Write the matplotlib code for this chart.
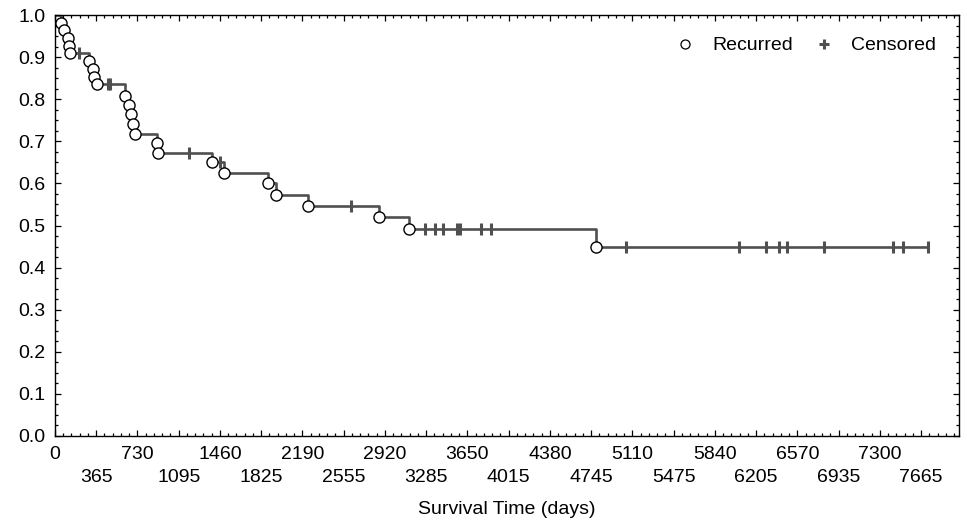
# Kaplan-Meier style recurrence curve

import numpy as np
import matplotlib
matplotlib.use('Agg')
import matplotlib.pyplot as plt
from matplotlib.lines import Line2D
from matplotlib.ticker import MultipleLocator

plt.rcParams['font.family'] = ['Liberation Sans', 'DejaVu Sans']

# recurrence times (days) and survival after each drop
event_times = [50, 82, 118, 121, 133, 301, 339, 348, 374, 622, 658, 670, 693, 711,
               905, 912, 1389, 1498, 1882, 1958, 2242, 2867, 3130, 4788]
event_surv = [0.982, 0.964, 0.945, 0.927, 0.909, 0.890, 0.872, 0.853, 0.835, 0.808,
              0.786, 0.764, 0.741, 0.718, 0.695, 0.673, 0.650, 0.624, 0.600, 0.573,
              0.547, 0.520, 0.492, 0.448]
# censored times (days)
censor_times = [215, 466, 487, 1183, 1460, 2619, 3277, 3363, 3436, 3560, 3584, 3770,
                3856, 5050, 6056, 6292, 6407, 6475, 6805, 7419, 7502, 7728]

xticks = list(range(0, 7666, 365))
yticks = [i / 10 for i in range(11)]

line_col = '#505050'

fig = plt.figure(figsize=(9.67, 5.23), dpi=100)
ax = fig.add_axes([55/967, 1-436/523, (959-55)/967, (436-15)/523])

levels = [1.0] + event_surv
xs = [0] + event_times + [max(censor_times)]
ys = levels + [levels[-1]]
ax.step(xs, ys, where='post', color=line_col, lw=1.9, zorder=2)

idx = np.searchsorted(event_times, censor_times, side='right')
cens_y = [levels[i] for i in idx]
ax.plot(censor_times, cens_y, ls='none', marker='|', ms=8, mew=2.2,
        color=line_col, zorder=3)

ax.plot(event_times, event_surv, ls='none', marker='o', ms=8, mfc='white',
        mec='black', mew=1.0, zorder=4)

ax.set_xlim(0, 8000)
ax.set_ylim(0, 1.0)
ax.set_xticks(xticks)
ax.set_xticklabels([str(v) if i % 2 == 0 else '\n' + str(v) for i, v in enumerate(xticks)])
for t in ax.get_xticklabels():
    t.set_linespacing(1.45)
ax.xaxis.set_minor_locator(MultipleLocator(73))
ax.set_yticks(yticks)
ax.set_yticklabels(['%.1f' % v for v in yticks])
ax.yaxis.set_minor_locator(MultipleLocator(0.025))

ax.tick_params(which='both', direction='in', top=True, right=True, labelsize=14,
               color='black', width=0.9)
ax.tick_params(which='major', length=4, pad=7)
ax.tick_params(which='minor', length=2.5)
for s in ax.spines.values():
    s.set_linewidth(1.0)
    s.set_color('black')

ax.set_xlabel('Survival Time (days)', fontsize=14, labelpad=11)

handles = [Line2D([], [], ls='none', marker='o', ms=6.5, mfc='white', mec='black', mew=0.9),
           Line2D([], [], ls='none', marker='+', ms=7, mew=2.2, color=line_col)]
ax.legend(handles, ['Recurred', 'Censored'], ncol=2, frameon=False, fontsize=14,
          loc='upper right', bbox_to_anchor=(0.994, 0.99), handlelength=0.8,
          handletextpad=1.0, columnspacing=1.2)

plt.savefig('out.png', dpi=100)
